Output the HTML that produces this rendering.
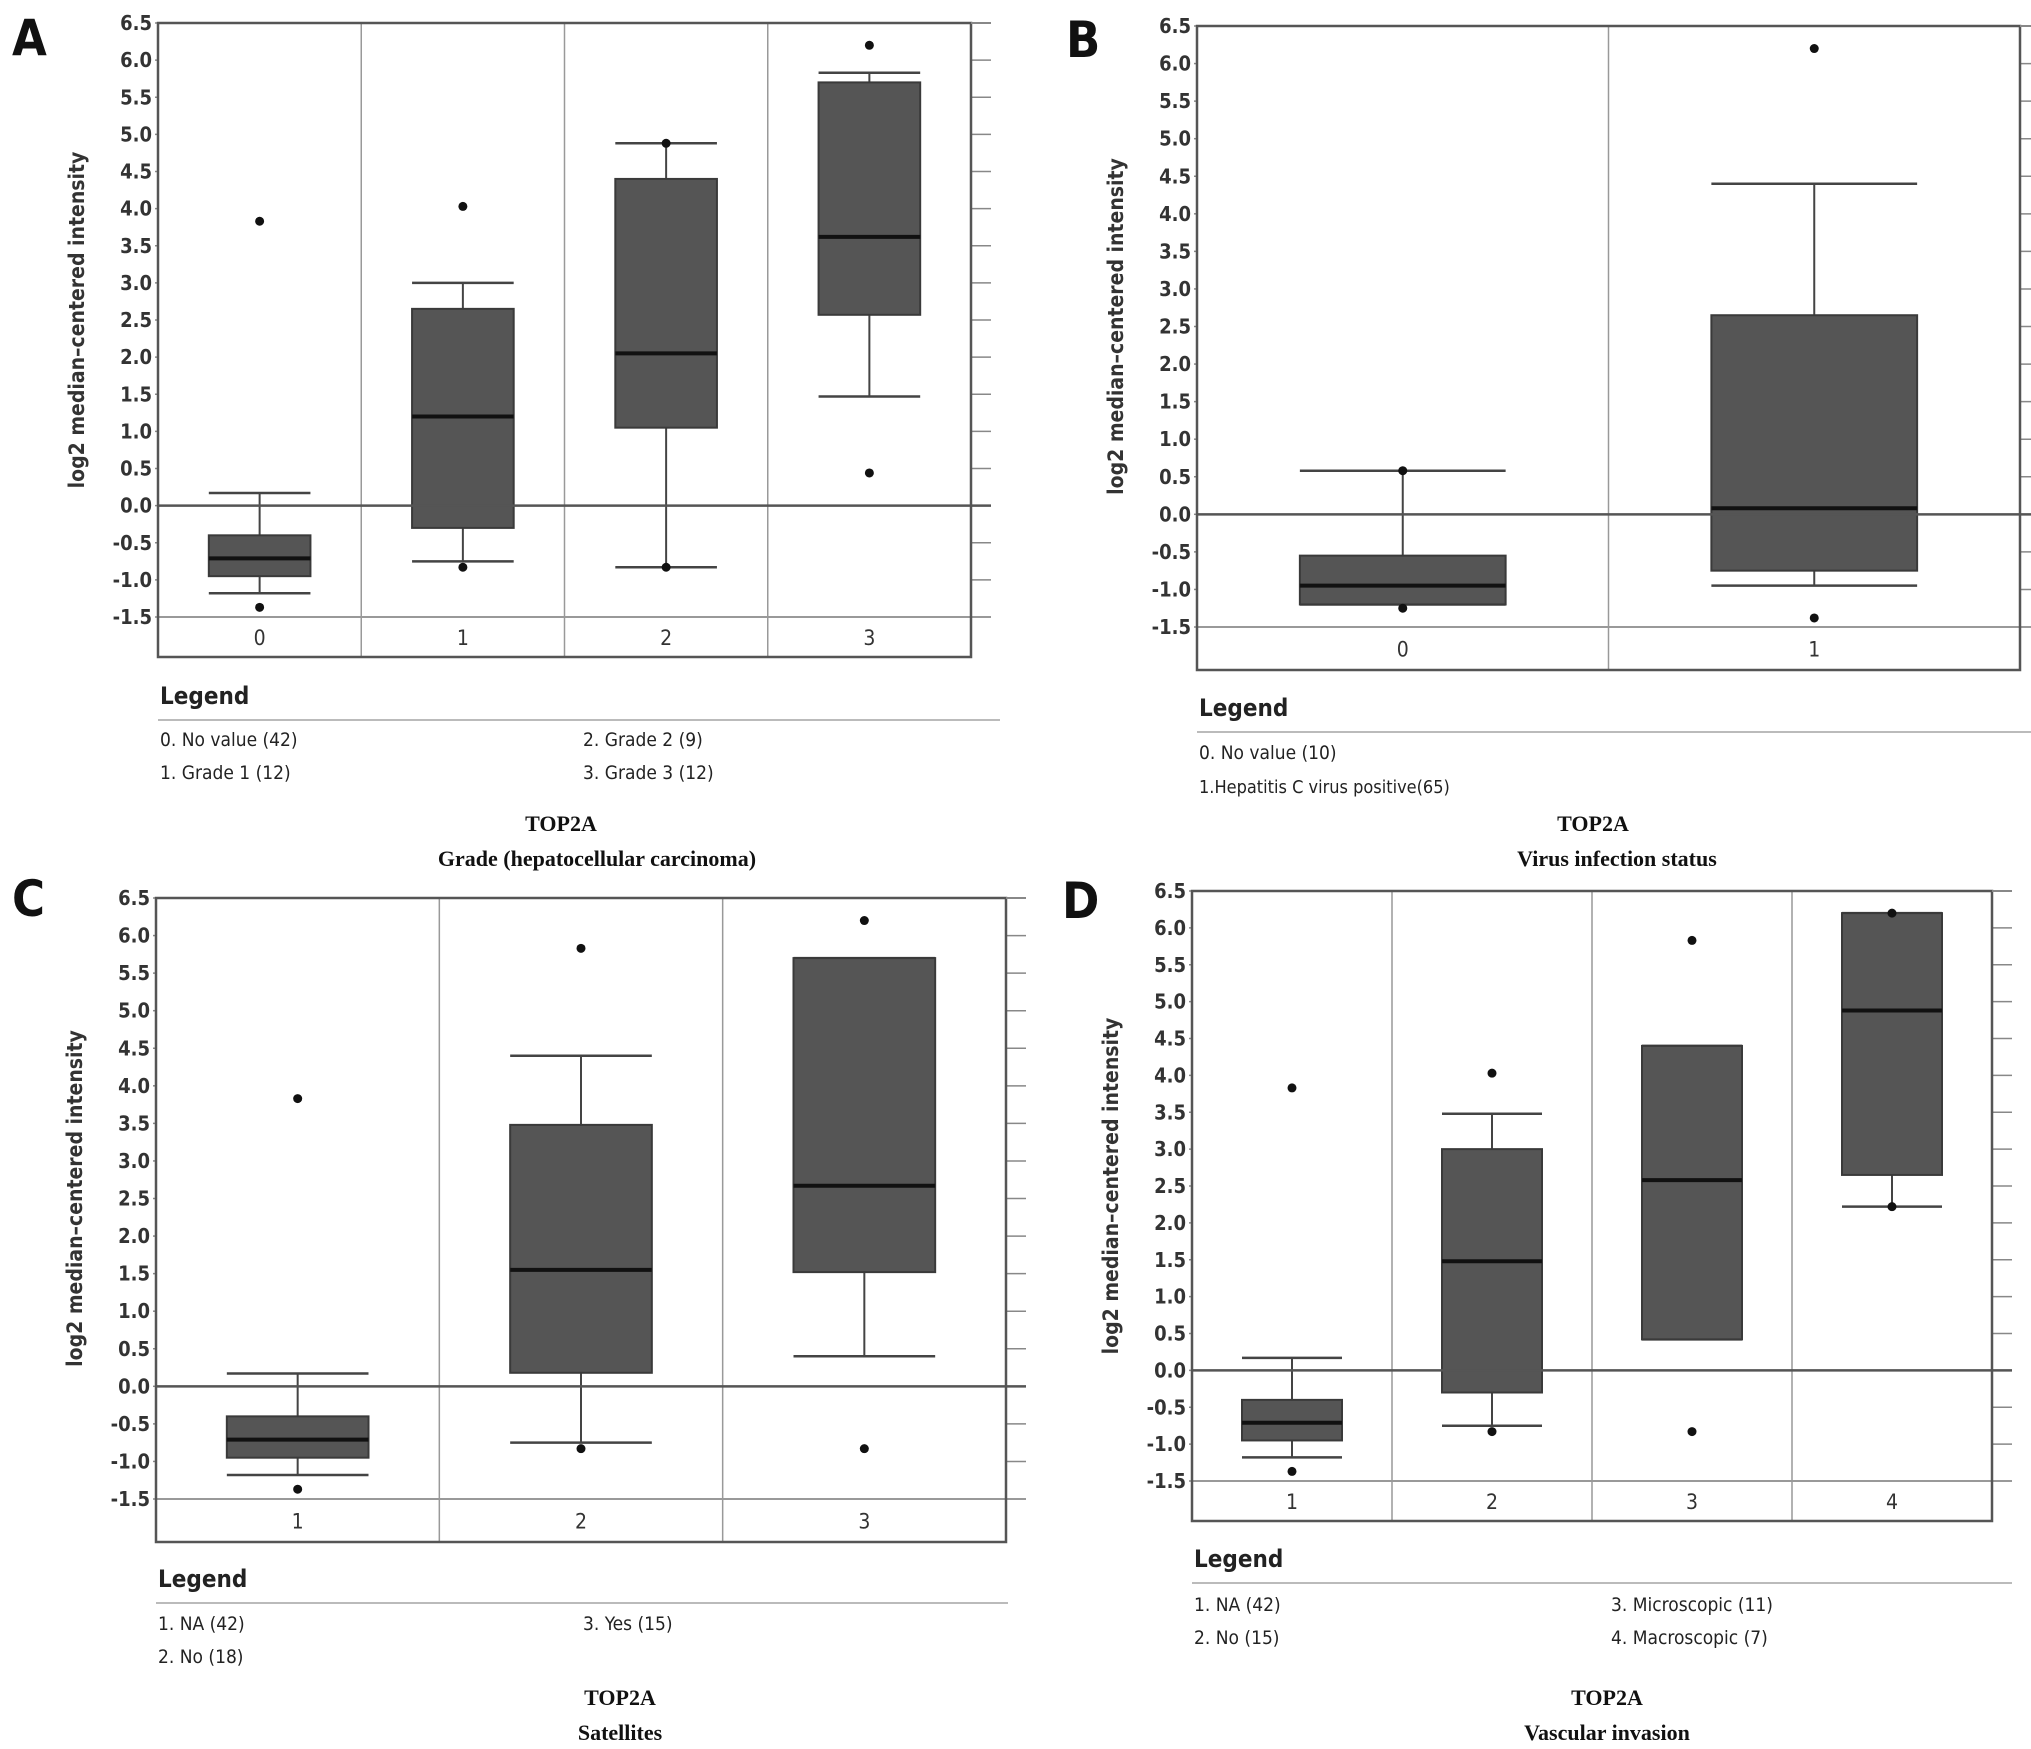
<!DOCTYPE html>
<html><head><meta charset="utf-8">
<style>
html,body{margin:0;padding:0;background:#fff;}
svg{display:block;}
text{font-family:"DejaVu Sans Condensed","Liberation Sans",sans-serif;}
.serif{font-family:"Liberation Serif",serif;font-weight:bold;}
</style></head>
<body>
<svg id="fig" width="2031" height="1749" viewBox="0 0 2031 1749" xmlns="http://www.w3.org/2000/svg"></svg>
<script>
// ---- shared ticks ----
const tickValues = [6.5,6.0,5.5,5.0,4.5,4.0,3.5,3.0,2.5,2.0,1.5,1.0,0.5,0.0,-0.5,-1.0,-1.5];
const tickLabels = ["6.5","6.0","5.5","5.0","4.5","4.0","3.5","3.0","2.5","2.0","1.5","1.0","0.5","0.0","-0.5","-1.0","-1.5"];

// ---- Panel A: Grade ----
const aCats = ["0","1","2","3"];
const aHi  = [0.17, 3.0, 4.88, 5.83];
const aQ3  = [-0.4, 2.65, 4.4, 5.7];
const aMed = [-0.71, 1.2, 2.05, 3.62];
const aQ1  = [-0.95, -0.3, 1.05, 2.57];
const aLo  = [-1.18, -0.75, -0.83, 1.47];
const aOutHi = [3.83, 4.03, 4.88, 6.2];
const aOutLo = [-1.37, -0.83, -0.83, 0.44];
const aLegend = ["0. No value (42)","1. Grade 1 (12)","2. Grade 2 (9)","3. Grade 3 (12)"];

// ---- Panel B: Virus infection ----
const bCats = ["0","1"];
const bHi  = [0.58, 4.4];
const bQ3  = [-0.55, 2.65];
const bMed = [-0.95, 0.08];
const bQ1  = [-1.2, -0.75];
const bLo  = [-1.2, -0.95];
const bOutHi = [0.58, 6.2];
const bOutLo = [-1.25, -1.38];
const bLegend = ["0. No value (10)","1.Hepatitis C virus positive(65)"];

// ---- Panel C: Satellites ----
const cCats = ["1","2","3"];
const cHi  = [0.17, 4.4, 5.7];
const cQ3  = [-0.4, 3.48, 5.7];
const cMed = [-0.71, 1.55, 2.67];
const cQ1  = [-0.95, 0.18, 1.52];
const cLo  = [-1.18, -0.75, 0.4];
const cOutHi = [3.83, 5.83, 6.2];
const cOutLo = [-1.37, -0.83, -0.83];
const cLegend = ["1. NA (42)","2. No (18)","3. Yes (15)"];

// ---- Panel D: Vascular invasion ----
const dCats = ["1","2","3","4"];
const dHi  = [0.17, 3.48, 4.4, 6.2];
const dQ3  = [-0.4, 3.0, 4.4, 6.2];
const dMed = [-0.71, 1.48, 2.58, 4.88];
const dQ1  = [-0.95, -0.3, 0.42, 2.65];
const dLo  = [-1.18, -0.75, 0.42, 2.22];
const dOutHi = [3.83, 4.03, 5.83, 6.2];
const dOutLo = [-1.37, -0.83, -0.83, 2.22];
const dLegend = ["1. NA (42)","2. No (15)","3. Microscopic (11)","4. Macroscopic (7)"];

const NS = "http://www.w3.org/2000/svg";
const svg = document.getElementById("fig");
function mk(tag, attrs, parent, txt){
  const e = document.createElementNS(NS, tag);
  for (const k in attrs) e.setAttribute(k, attrs[k]);
  if (txt !== undefined) e.textContent = txt;
  (parent||svg).appendChild(e);
  return e;
}

function panel(cfg, cats, hi, q3, med, q1, lo, outHi, outLo, legend){
  const g = mk("g", {});
  
  
  const L = cfg.left, R = cfg.right, yTop = cfg.top, yBot = cfg.lowGrid, fB = cfg.bottom;
  const y = v => yTop + (6.5 - v) * (yBot - yTop) / 8;
  const colW = (R - L) / cats.length;
  const xc = i => L + colW * (i + 0.5);

  const lab = mk("text", {x:cfg.labelX, y:cfg.labelY, "font-size":50, "font-weight":"bold", "font-family":"Liberation Sans, sans-serif", fill:"#111"}, g, cfg.id);
  
  

  tickValues.forEach((v, i) => {
    const t = mk("text", {x:L-6, y:y(v)+7, "text-anchor":"end", "font-size":20, "font-weight":"bold", fill:"#333"}, g, tickLabels[i]);
    
    
    mk("line", {x1:R, x2:R+20, y1:y(v), y2:y(v), stroke:"#888", "stroke-width":1.5}, g);
    mk("line", {x1:L-3, x2:L, y1:y(v), y2:y(v), stroke:"#888", "stroke-width":1.5}, g);
  });
  mk("line", {x1:L, x2:R+20, y1:y(-1.5), y2:y(-1.5), stroke:"#999", "stroke-width":2}, g);
  for (let i = 1; i < cats.length; i++){
    mk("line", {x1:L+colW*i, x2:L+colW*i, y1:yTop, y2:fB, stroke:"#999", "stroke-width":1.5}, g);
  }
  const fr = mk("rect", {x:L, y:yTop, width:R-L, height:fB-yTop, fill:"none", stroke:"#555", "stroke-width":2.5}, g);
  
  
  mk("line", {x1:R, x2:R+20, y1:yTop, y2:yTop, stroke:"#888", "stroke-width":2}, g);

  const tx = cfg.titleX, ty = (yTop + yBot) / 2;
  const at = mk("text", {x:tx, y:ty, "text-anchor":"middle", "font-size":21, "font-weight":"bold", fill:"#333", transform:`rotate(-90 ${tx} ${ty})`}, g, "log2 median\u2013centered intensity");
  
  

  cats.forEach((c, i) => {
    const x = xc(i), hw = colW * 0.25;
    const bg = mk("g", {}, g);
    
    
    mk("line", {x1:x, x2:x, y1:y(hi[i]), y2:y(q3[i]), stroke:"#444", "stroke-width":2}, bg);
    mk("line", {x1:x, x2:x, y1:y(q1[i]), y2:y(lo[i]), stroke:"#444", "stroke-width":2}, bg);
    mk("line", {x1:x-hw, x2:x+hw, y1:y(hi[i]), y2:y(hi[i]), stroke:"#444", "stroke-width":2.5}, bg);
    mk("line", {x1:x-hw, x2:x+hw, y1:y(lo[i]), y2:y(lo[i]), stroke:"#444", "stroke-width":2.5}, bg);
    mk("rect", {x:x-hw, y:y(q3[i]), width:2*hw, height:y(q1[i])-y(q3[i]), fill:"#555", stroke:"#3a3a3a", "stroke-width":2}, bg);
    mk("line", {x1:x-hw, x2:x+hw, y1:y(med[i]), y2:y(med[i]), stroke:"#111", "stroke-width":4}, bg);
    mk("circle", {cx:x, cy:y(outHi[i]), r:4.5, fill:"#111"}, bg);
    mk("circle", {cx:x, cy:y(outLo[i]), r:4.5, fill:"#111"}, bg);
    const cl = mk("text", {x:x, y:(yBot+fB)/2+8, "text-anchor":"middle", "font-size":21, fill:"#333"}, g, c);
    
    
  });
  mk("line", {x1:L, x2:R+20, y1:y(0), y2:y(0), stroke:"#555", "stroke-width":2.5}, g);

  const lh = mk("text", {x:L+2, y:cfg.legY, "font-size":24, "font-weight":"bold", fill:"#222"}, g, "Legend");
  
  
  mk("line", {x1:L, x2:cfg.legLineR, y1:cfg.legY+16, y2:cfg.legY+16, stroke:"#bbb", "stroke-width":2}, g);
  legend.forEach((t, i) => {
    const col = i < cfg.perCol ? 0 : 1;
    const row = col ? i - cfg.perCol : i;
    const attrs = {x: col ? cfg.leg2X : L+2, y: cfg.item1Y + row*cfg.itemDY, "font-size":19, fill:"#222"};
    if (cfg.id === "B" && i === 1) { attrs["font-family"] = "Liberation Sans, sans-serif"; attrs["font-size"] = 18; }
    const le = mk("text", attrs, g, t);
    
    
  });
  const gt = mk("text", {x:cfg.capX, y:cfg.capY, "text-anchor":"middle", "font-size":22, "class":"serif", fill:"#111"}, g, "TOP2A");
  
  
  const ct = mk("text", {x:cfg.capX2, y:cfg.capY+35, "text-anchor":"middle", "font-size":22, "class":"serif", fill:"#111"}, g, cfg.caption);
  
  
}

panel({id:"A", left:158, right:971, top:23, lowGrid:617, bottom:657, labelX:12, labelY:55, titleX:84,
  legY:704, legLineR:1000, item1Y:746, itemDY:33, leg2X:583, perCol:2, capX:561, capX2:597, capY:831,
  caption:"Grade  (hepatocellular carcinoma)"}, aCats, aHi, aQ3, aMed, aQ1, aLo, aOutHi, aOutLo, aLegend);

panel({id:"B", left:1197, right:2020, top:26, lowGrid:627, bottom:670, labelX:1066, labelY:57, titleX:1123,
  legY:716, legLineR:2031, item1Y:759, itemDY:34, leg2X:1610, perCol:2, capX:1593, capX2:1617, capY:831,
  caption:"Virus infection status"}, bCats, bHi, bQ3, bMed, bQ1, bLo, bOutHi, bOutLo, bLegend);

panel({id:"C", left:156, right:1006, top:898, lowGrid:1499, bottom:1542, labelX:12, labelY:916, titleX:82,
  legY:1587, legLineR:1008, item1Y:1630, itemDY:33, leg2X:583, perCol:2, capX:620, capX2:620, capY:1705,
  caption:"Satellites"}, cCats, cHi, cQ3, cMed, cQ1, cLo, cOutHi, cOutLo, cLegend);

panel({id:"D", left:1192, right:1992, top:891, lowGrid:1481, bottom:1521, labelX:1062, labelY:918, titleX:1118,
  legY:1567, legLineR:2012, item1Y:1611, itemDY:33, leg2X:1611, perCol:2, capX:1607, capX2:1607, capY:1705,
  caption:"Vascular invasion"}, dCats, dHi, dQ3, dMed, dQ1, dLo, dOutHi, dOutLo, dLegend);
</script>
</body></html>
